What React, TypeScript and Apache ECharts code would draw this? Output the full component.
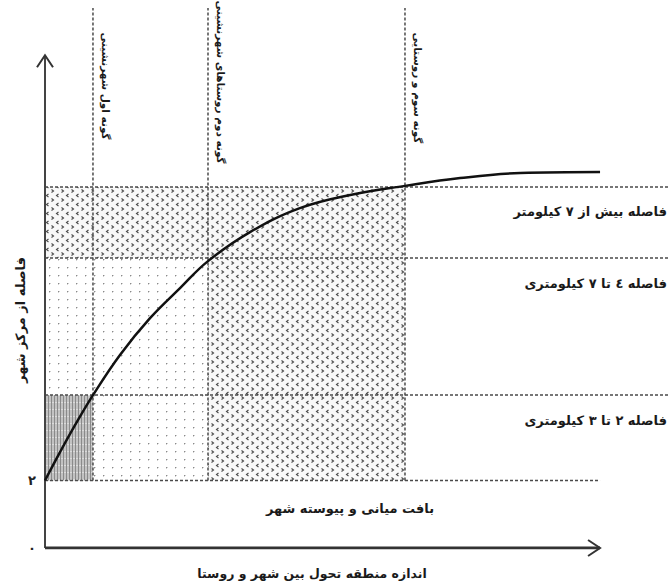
import React, { useEffect, useRef } from 'react';
import * as echarts from 'echarts';

// ---- data ----
const X_MAX = 110;
const Y_MAX = 16;
const Y_TICK_STEP = 2;
const xAxisEnd = 98;
const yAxisEnd = 14.6;
const zoneLineTop = 16;

const bandLimits = [2, 4.53, 8.59, 10.7];
const zoneLimits = [8.47, 28.78, 63.56];

const zoneLabels = ['گونه اول شهرنشینی', 'گونه دوم روستاهای شهرنشینی', 'گونه سوم و روستایی'];
const bandLabels = ['فاصله ۲ تا ۳ کیلومتری', 'فاصله ٤ تا ۷ کیلومتری', 'فاصله بیش از ۷ کیلومتر'];
const coreLabel = 'بافت میانی و پیوسته شهر';
const xTitle = 'اندازه منطقه تحول بین شهر و روستا';
const yTitle = 'فاصله از مرکز شهر';
const yTickLabels: Record<number, string> = { 0: '٠', 2: '۲' };

const curveX = [0, 2.65, 5.3, 8.47, 13.24, 18.54, 23.84, 28.78, 36.2, 45.0, 53.9, 63.56, 73.3, 83.9, 98];
const curveY = [2.0, 2.84, 3.64, 4.53, 5.72, 6.81, 7.7, 8.5, 9.36, 10.07, 10.46, 10.73, 10.96, 11.11, 11.14];

// cells: zone edge indices (into [0, ...zoneLimits]), band index, pattern (0 dots, 1 cross, 2 dense)
const cellZoneFrom = [0, 1, 2, 0, 2, 0];
const cellZoneTo = [1, 2, 3, 2, 3, 3];
const cellBand = [0, 0, 0, 1, 1, 2];
const cellPattern = [2, 0, 1, 0, 1, 1];

const FONT = '"DejaVu Sans", sans-serif';

function makeTile(w: number, h: number, draw: (ctx: CanvasRenderingContext2D) => void) {
  const c = document.createElement('canvas');
  c.width = w;
  c.height = h;
  const ctx = c.getContext('2d')!;
  draw(ctx);
  return { image: c, repeat: 'repeat', imageWidth: w, imageHeight: h } as any;
}

export default function App() {
  const ref = useRef<HTMLDivElement>(null);
  useEffect(() => {
    if (!ref.current) return;
    const chart = echarts.init(ref.current, undefined, { renderer: 'svg' });

    const patterns = [
      makeTile(9, 8, (ctx) => {
        ctx.fillStyle = '#ffffff';
        ctx.fillRect(0, 0, 9, 8);
        ctx.fillStyle = '#8a8a8a';
        ctx.fillRect(4, 3, 1, 1);
        ctx.fillStyle = '#d0d0d0';
        ctx.fillRect(5, 3, 1, 1);
        ctx.fillRect(4, 4, 1, 1);
      }),
      makeTile(10, 9, (ctx) => {
        ctx.fillStyle = '#f8f8f8';
        ctx.fillRect(0, 0, 10, 9);
        ctx.strokeStyle = '#4a4a4a';
        ctx.lineWidth = 1.1;
        ctx.beginPath();
        ctx.moveTo(1.5, 0.5);
        ctx.lineTo(3.5, 2);
        ctx.lineTo(1.5, 3.5);
        ctx.moveTo(8.5, 5);
        ctx.lineTo(6.5, 6.5);
        ctx.lineTo(8.5, 8);
        ctx.stroke();
      }),
      makeTile(3, 7, (ctx) => {
        ctx.fillStyle = '#c2c2c2';
        ctx.fillRect(0, 0, 3, 7);
        ctx.fillStyle = '#8a8a8a';
        ctx.fillRect(0, 0, 1, 7);
        ctx.fillStyle = '#dadada';
        ctx.fillRect(1, 3, 2, 1);
      }),
    ];

    const zoneEdges = [0, ...zoneLimits];
    const cellData = cellBand.map((b, i) => [
      zoneEdges[cellZoneFrom[i]],
      zoneEdges[cellZoneTo[i]],
      bandLimits[b],
      bandLimits[b + 1],
      cellPattern[i],
    ]);

    const dotted = { color: '#4a4a4a', width: 1.5, type: [3, 2] as any };

    const hLines = bandLimits.map((v, i) => ({
      type: 'line',
      data: [
        [0, v],
        [i === 0 ? xAxisEnd : X_MAX, v],
      ],
      symbol: 'none',
      lineStyle: dotted,
      z: 3,
    }));
    const vLines = zoneLimits.map((v) => ({
      type: 'line',
      data: [
        [v, bandLimits[0]],
        [v, zoneLineTop],
      ],
      symbol: 'none',
      lineStyle: dotted,
      z: 3,
    }));

    chart.setOption({
      animation: false,
      grid: { left: 45, right: 0, top: 8, bottom: 38, containLabel: false },
      xAxis: { type: 'value', min: 0, max: X_MAX, show: false },
      yAxis: {
        type: 'value',
        min: 0,
        max: Y_MAX,
        interval: Y_TICK_STEP,
        axisLine: { show: false },
        axisTick: { show: false },
        splitLine: { show: false },
        axisLabel: {
          formatter: (v: number) => yTickLabels[v] ?? '',
          margin: 9,
          fontSize: 13,
          fontWeight: 'bold',
          color: '#222',
          fontFamily: FONT,
        },
      },
      series: [
        {
          type: 'custom',
          data: cellData,
          z: 1,
          renderItem: (params: any, api: any) => {
            const a = api.coord([api.value(0), api.value(3)]);
            const b = api.coord([api.value(1), api.value(2)]);
            return {
              type: 'rect',
              shape: { x: a[0], y: a[1], width: b[0] - a[0], height: b[1] - a[1] },
              style: { fill: patterns[api.value(4)] },
            };
          },
        },
        ...hLines,
        ...vLines,
        {
          type: 'line',
          data: [
            [0, 0],
            [0, yAxisEnd],
          ],
          symbol: 'none',
          lineStyle: { color: '#444', width: 2 },
          z: 4,
        },
        {
          type: 'line',
          data: [
            [0, 0],
            [xAxisEnd, 0],
          ],
          symbol: 'none',
          lineStyle: { color: '#333', width: 3 },
          z: 4,
        },
        {
          type: 'line',
          data: curveX.map((x, i) => [x, curveY[i]]),
          symbol: 'none',
          smooth: 0.4,
          lineStyle: { color: '#111', width: 2.5 },
          z: 5,
        },
      ],
    });

    const px = (x: number, y: number) => chart.convertToPixel({ gridIndex: 0 }, [x, y]) as number[];
    const yTip = px(0, yAxisEnd);
    const xTip = px(xAxisEnd, 0);
    const W = chart.getWidth();
    const txt = (text: string, x: number, y: number, align: string, size: number, rotation = 0) => ({
      type: 'text',
      x,
      y,
      rotation,
      z: 10,
      style: {
        text,
        font: `bold ${size}px ${FONT}`,
        fill: '#1a1a1a',
        align,
        verticalAlign: 'middle',
        textAlign: align,
        textVerticalAlign: 'middle',
      },
    });

    const graphics: any[] = [
      {
        type: 'polyline',
        z: 10,
        shape: {
          points: [
            [yTip[0] - 8, yTip[1] + 12],
            [yTip[0], yTip[1]],
            [yTip[0] + 8, yTip[1] + 12],
          ],
        },
        style: { stroke: '#333', lineWidth: 2, fill: 'none' },
      },
      {
        type: 'polyline',
        z: 10,
        shape: {
          points: [
            [xTip[0] - 12, xTip[1] - 8],
            [xTip[0], xTip[1]],
            [xTip[0] - 12, xTip[1] + 8],
          ],
        },
        style: { stroke: '#333', lineWidth: 2, fill: 'none' },
      },
    ];
    bandLabels.forEach((t, i) => {
      const top = px(0, bandLimits[i + 1])[1];
      graphics.push(txt(t, W - 1, top + 25, 'right', 13));
    });
    const coreTop = px(0, bandLimits[0])[1];
    graphics.push(txt(coreLabel, 350, coreTop + 28, 'center', 13));
    const zoneCenters = [86, 82, 88];
    zoneLabels.forEach((t, i) => {
      const zx = px(zoneLimits[i], 0)[0];
      graphics.push(txt(t, zx + 13, zoneCenters[i], 'center', 10.5, -Math.PI / 2));
    });
    graphics.push(txt(xTitle, 312, 573, 'center', 12.5));
    graphics.push(txt(yTitle, 20, 320, 'center', 13, Math.PI / 2));

    chart.setOption({ graphic: graphics });

    return () => chart.dispose();
  }, []);

  return <div ref={ref} style={{ position: 'absolute', left: 0, top: 0, width: 668, height: 586 }} />;
}
